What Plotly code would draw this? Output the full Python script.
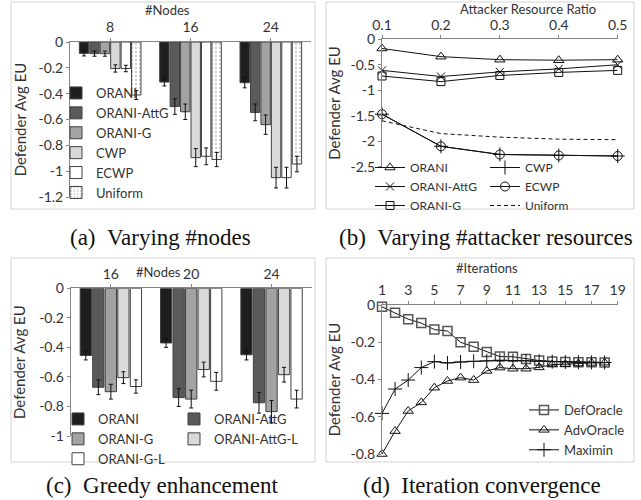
import plotly.graph_objects as go

# ---------------- data ----------------
# (a) Varying #nodes
nodes_a = ["8", "16", "24"]
a_orani = [-0.088, -0.31, -0.315]
a_attg = [-0.09, -0.50, -0.545]
a_g = [-0.09, -0.54, -0.64]
a_cwp = [-0.205, -0.895, -1.05]
a_ecwp = [-0.205, -0.885, -1.05]
a_unif = [-0.41, -0.91, -0.945]
a_orani_err = [0.02, 0.03, 0.04]
a_attg_err = [0.02, 0.06, 0.065]
a_g_err = [0.02, 0.06, 0.075]
a_cwp_err = [0.028, 0.07, 0.08]
a_ecwp_err = [0.025, 0.065, 0.08]
a_unif_err = [0.035, 0.055, 0.06]
a_yticks = [0, -0.2, -0.4, -0.6, -0.8, -1.0, -1.2]
a_ylabels = ["0", "-0.2", "-0.4", "-0.6", "-0.8", "-1", "-1.2"]

# (b) Varying attacker resources
ratio = [0.1, 0.2, 0.3, 0.4, 0.5]
b_orani = [-0.18, -0.34, -0.40, -0.41, -0.40]
b_attg = [-0.61, -0.73, -0.64, -0.58, -0.50]
b_g = [-0.72, -0.83, -0.71, -0.65, -0.61]
b_cwp = [-1.47, -2.10, -2.26, -2.28, -2.29]
b_ecwp = [-1.47, -2.10, -2.26, -2.28, -2.29]
b_unif = [-1.60, -1.85, -1.92, -1.96, -1.97]
b_yticks = [0, -0.5, -1.0, -1.5, -2.0, -2.5]
b_ylabels = ["0", "-0.5", "-1", "-1.5", "-2", "-2.5"]

# (c) Greedy enhancement
nodes_c = ["16", "20", "24"]
c_orani = [-0.455, -0.37, -0.45]
c_attg = [-0.67, -0.74, -0.775]
c_g = [-0.70, -0.75, -0.835]
c_attgl = [-0.605, -0.55, -0.585]
c_gl = [-0.665, -0.63, -0.75]
c_orani_err = [0.03, 0.03, 0.035]
c_attg_err = [0.05, 0.06, 0.07]
c_g_err = [0.05, 0.06, 0.075]
c_attgl_err = [0.04, 0.05, 0.05]
c_gl_err = [0.045, 0.06, 0.06]
c_yticks = [0, -0.2, -0.4, -0.6, -0.8, -1.0]
c_ylabels = ["0", "-0.2", "-0.4", "-0.6", "-0.8", "-1"]

# (d) Iteration convergence
iters = list(range(1, 19))
d_def = [-0.01, -0.042, -0.076, -0.097, -0.132, -0.14, -0.20, -0.224, -0.252,
         -0.277, -0.278, -0.29, -0.298, -0.303, -0.306, -0.307, -0.308, -0.309]
d_adv = [-0.80, -0.677, -0.569, -0.523, -0.444, -0.408, -0.39, -0.403, -0.354,
         -0.336, -0.342, -0.342, -0.335, -0.32, -0.318, -0.314, -0.311, -0.31]
d_max = [-0.582, -0.451, -0.403, -0.336, -0.304, -0.311, -0.306, -0.302, -0.300,
         -0.297, -0.298, -0.300, -0.302, -0.304, -0.306, -0.307, -0.308, -0.309]
d_yticks = [0, -0.2, -0.4, -0.6, -0.8]
d_ylabels = ["0", "-0.2", "-0.4", "-0.6", "-0.8"]

captions = ["(a)\u2002Varying #nodes", "(b)\u2002Varying #attacker resources",
            "(c)\u2002Greedy enhancement", "(d)\u2002Iteration convergence"]
x_titles = ["#Nodes", "Attacker Resource Ratio", "#Nodes", "#Iterations"]

# ---------------- style ----------------
W, H = 641, 500
FONT = "Lato"
TXT = "#333333"
AX = "#868686"
OUT = "#404040"


def px(x):
    return x / W


def py(y):
    return 1 - y / H


fig = go.Figure()


def bar(x, y, err, name, color, xa, ya, legend, pattern=None):
    marker = dict(color=color, line=dict(color=OUT, width=1))
    if pattern:
        marker["pattern"] = dict(shape=".", fgcolor="#9a9a9a", bgcolor="white",
                                 size=4, solidity=0.25)
    fig.add_trace(go.Bar(
        x=x, y=y, name=name, marker=marker, xaxis=xa, yaxis=ya, legend=legend,
        legendgroup=legend + name,
        error_y=dict(type="data", array=err, color="#111111", thickness=1, width=2),
    ))


def line(x, y, name, symbol, size, xa, ya, legend, dash="solid", mode="lines+markers",
         mcolor="#111111", mwidth=1):
    fig.add_trace(go.Scatter(
        x=x, y=y, name=name, mode=mode, xaxis=xa, yaxis=ya, legend=legend,
        legendgroup=legend + name,
        line=dict(color="#111111", width=1, dash=dash),
        marker=dict(symbol=symbol, size=size, color=mcolor,
                    line=dict(color=mcolor, width=mwidth)),
        cliponaxis=False,
    ))


# (a)
bar(nodes_a, a_orani, a_orani_err, "ORANI", "#1e1e1e", "x", "y", "legend")
bar(nodes_a, a_attg, a_attg_err, "ORANI-AttG", "#5a5a5a", "x", "y", "legend")
bar(nodes_a, a_g, a_g_err, "ORANI-G", "#a3a3a3", "x", "y", "legend")
bar(nodes_a, a_cwp, a_cwp_err, "CWP", "#d9d9d9", "x", "y", "legend")
bar(nodes_a, a_ecwp, a_ecwp_err, "ECWP", "#ffffff", "x", "y", "legend")
bar(nodes_a, a_unif, a_unif_err, "Uniform", "#ffffff", "x", "y", "legend", pattern=True)

# (b)
line(ratio, b_orani, "ORANI", "triangle-up-open", 9, "x2", "y2", "legend2")
line(ratio, b_attg, "ORANI-AttG", "x-thin-open", 8, "x2", "y2", "legend2")
line(ratio, b_g, "ORANI-G", "square-open", 8, "x2", "y2", "legend2")
line(ratio, b_cwp, "CWP", "cross-thin-open", 10, "x2", "y2", "legend3")
line(ratio, b_ecwp, "ECWP", "circle-open", 9, "x2", "y2", "legend3")
line(ratio, b_unif, "Uniform", "circle", 1, "x2", "y2", "legend3", dash="4px,3px", mode="lines")

# (c)
bar(nodes_c, c_orani, c_orani_err, "ORANI", "#1e1e1e", "x3", "y3", "legend4")
bar(nodes_c, c_attg, c_attg_err, "ORANI-AttG", "#5a5a5a", "x3", "y3", "legend5")
bar(nodes_c, c_g, c_g_err, "ORANI-G", "#a3a3a3", "x3", "y3", "legend4")
bar(nodes_c, c_attgl, c_attgl_err, "ORANI-AttG-L", "#d9d9d9", "x3", "y3", "legend5")
bar(nodes_c, c_gl, c_gl_err, "ORANI-G-L", "#ffffff", "x3", "y3", "legend4")

# (d)
line(iters, d_def, "DefOracle", "square-open", 9, "x4", "y4", "legend6", mcolor="#555555", mwidth=1.5)
line(iters, d_adv, "AdvOracle", "triangle-up-open", 9, "x4", "y4", "legend6")
line(iters, d_max, "Maximin", "cross-thin-open", 10, "x4", "y4", "legend6")

# ---------------- axes ----------------
tickfont = dict(family=FONT, size=14, color=TXT)
ytitlefont = dict(family=FONT, size=15, color=TXT)
xtitlefont = dict(family=FONT, size=13, color=TXT)


def xax(domain, anchor, **kw):
    d = dict(domain=domain, anchor=anchor, side="top", showline=True, linecolor=AX,
             linewidth=1, ticks="outside", ticklen=3, tickcolor=AX, showgrid=False,
             zeroline=False, tickfont=tickfont, automargin=False)
    d.update(kw)
    return d


def yax(domain, anchor, rng, tv, tt, standoff):
    return dict(domain=domain, anchor=anchor, range=rng, tickvals=tv, ticktext=tt,
                showline=True, linecolor=AX, linewidth=1, ticks="outside", ticklen=3,
                tickcolor=AX, showgrid=False, zeroline=False, tickfont=tickfont,
                automargin=False,
                title=dict(text="Defender Avg EU", font=ytitlefont, standoff=standoff))


fig.update_layout(
    xaxis=xax([px(70), px(311)], "y"),
    yaxis=yax([py(197), py(42)], "x", [-1.2, 0], a_yticks, a_ylabels, 8),
    xaxis2=xax([px(382), px(617.7)], "y2", range=[0.1, 0.5], dtick=0.1, tick0=0.1,
               tickformat=".1f"),
    yaxis2=yax([py(166.7), py(39.3)], "x2", [-2.5, 0], b_yticks, b_ylabels, 6),
    xaxis3=xax([px(70.7), px(311.7)], "y3"),
    yaxis3=yax([py(436), py(288.3)], "x3", [-1, 0], c_yticks, c_ylabels, 9),
    xaxis4=xax([px(382), px(617.7)], "y4", range=[1, 19], dtick=2, tick0=1),
    yaxis4=yax([py(454), py(305)], "x4", [-0.8, 0], d_yticks, d_ylabels, 6),
)


# ---------------- legends ----------------
def leg(x, y, size, gap):
    return dict(x=px(x), y=py(y), xanchor="left", yanchor="top", orientation="v",
                bgcolor="rgba(0,0,0,0)", borderwidth=0, itemwidth=30,
                tracegroupgap=gap, traceorder="normal",
                font=dict(family=FONT, size=size, color=TXT))


fig.update_layout(
    legend=leg(56, 78, 13, 1.5),
    legend2=leg(370, 153, 12, 0),
    legend3=leg(485, 153, 12, 0),
    legend4=leg(58, 404, 13, 0),
    legend5=leg(174, 404, 13, 0),
    legend6=leg(524, 395, 13, 1.5),
)

# ---------------- frames, captions, axis titles ----------------
frames = [(11, 2, 315, 209), (326, 2, 634, 209), (11, 258, 315, 462), (326, 258, 634, 462)]
shapes = []
for (x0, y0, x1, y1) in frames:
    shapes.append(dict(type="rect", xref="paper", yref="paper", x0=px(x0), x1=px(x1),
                       y0=py(y1), y1=py(y0), line=dict(color="#d4d4d4", width=1),
                       layer="below"))

annotations = []
cap_pos = [(161, 237), (486, 237), (162, 485), (482, 485)]
for text, (cx, cy) in zip(captions, cap_pos):
    annotations.append(dict(text=text, x=px(cx), y=py(cy), xref="paper", yref="paper",
                            xanchor="center", yanchor="middle", showarrow=False,
                            font=dict(family="Liberation Serif", size=23, color="#111111")))
title_pos = [(167, 10), (528, 9), (158, 272), (487, 268)]
for text, (cx, cy) in zip(x_titles, title_pos):
    annotations.append(dict(text=text, x=px(cx), y=py(cy), xref="paper", yref="paper",
                            xanchor="center", yanchor="middle", showarrow=False,
                            font=xtitlefont))

fig.update_layout(
    width=W, height=H, margin=dict(l=0, r=0, t=0, b=0, autoexpand=False),
    paper_bgcolor="white", plot_bgcolor="rgba(0,0,0,0)",
    barmode="group", bargap=0.22, bargroupgap=0.1,
    shapes=shapes, annotations=annotations,
    font=dict(family=FONT, color=TXT),
)

fig.write_html("out.html", config={"displayModeBar": False},
               post_script="document.body.style.margin='0px';")
